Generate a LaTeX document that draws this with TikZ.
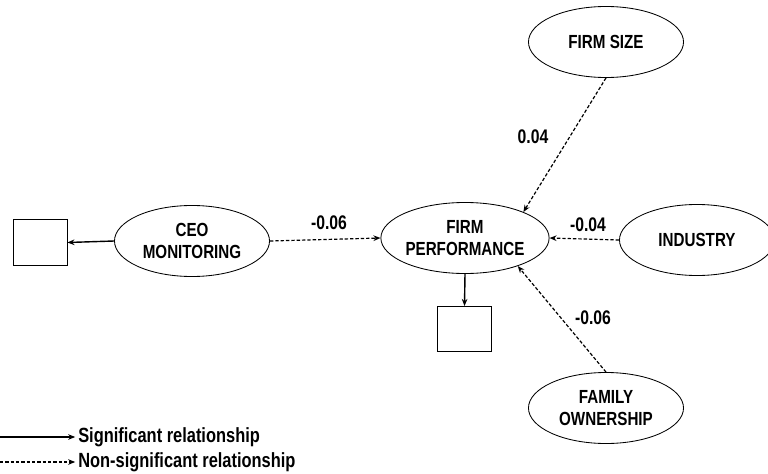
\documentclass[tikz,border=0pt]{standalone}
\usepackage{fontspec}
\setmainfont{Liberation Sans}[FakeStretch=0.8]
\usetikzlibrary{shapes.geometric,arrows.meta}

\tikzset{
    construct/.style={ellipse,draw,line width=0.6pt,inner sep=0pt,minimum width=3.875cm,minimum height=1.775cm,align=center,font=\fontsize{13.5}{15.5}\selectfont\bfseries},
    indicator/.style={rectangle,draw,line width=0.6pt,minimum width=1.35cm,minimum height=1.13cm},
    coef/.style={font=\fontsize{14}{16}\selectfont\bfseries},
    legendtext/.style={anchor=west,inner sep=0pt,font=\fontsize{14.6}{16}\selectfont\bfseries},
    sig/.style={line width=1pt,-{Stealth[length=5pt,width=4pt]}},
    nonsig/.style={line width=0.85pt,dash pattern=on 2.4pt off 1.4pt,-{Stealth[length=5pt,width=4pt]}}
}

\begin{document}
\begin{tikzpicture}[x=0.025cm,y=-0.025cm]
        \useasboundingbox (0,0) rectangle (768,473);

        \node[construct] (ceo) at (192,241) {CEO\\MONITORING};
        \node[construct] (fp) at (465,238) {FIRM\\PERFORMANCE};
        \node[construct] (size) at (606,42) {FIRM SIZE};
        \node[construct] (ind) at (697,240) {INDUSTRY};
        \node[construct] (fam) at (606,408) {FAMILY\\OWNERSHIP};

        \node[indicator] (ceobox) at (40,242.5) {};
        \node[indicator] (fpbox) at (464.5,329) {};

        \draw[sig] (ceo.west) -- (ceobox.east);
        \draw[sig] (fp.south) -- (fpbox.north);
        \draw[nonsig] (ceo.east) -- (fp.west);
        \draw[nonsig] (size.south) -- (fp.24);
        \draw[nonsig] (ind.west) -- (fp.east);
        \draw[nonsig] (fam.north) -- (fp.-28);

        \node[coef] (c1) at (329,223) {-0.06};
        \node[coef] (c2) at (533,137) {0.04};
        \node[coef] (c3) at (588,225) {-0.04};
        \node[coef] (c4) at (593,318) {-0.06};

        \coordinate (s0) at (0,437);
        \coordinate (n0) at (0,462);
        \node[legendtext] (sigtext) at (78,437) {Significant relationship};
        \node[legendtext] (nonsigtext) at (78,462) {Non-significant relationship};
        \draw[line width=0.8pt,shorten >=2pt,-{Stealth[length=5pt,width=4pt]}] (s0) -- (sigtext.west);
        \draw[nonsig,shorten >=2pt] (n0) -- (nonsigtext.west);
    \end{tikzpicture}
\end{document}
